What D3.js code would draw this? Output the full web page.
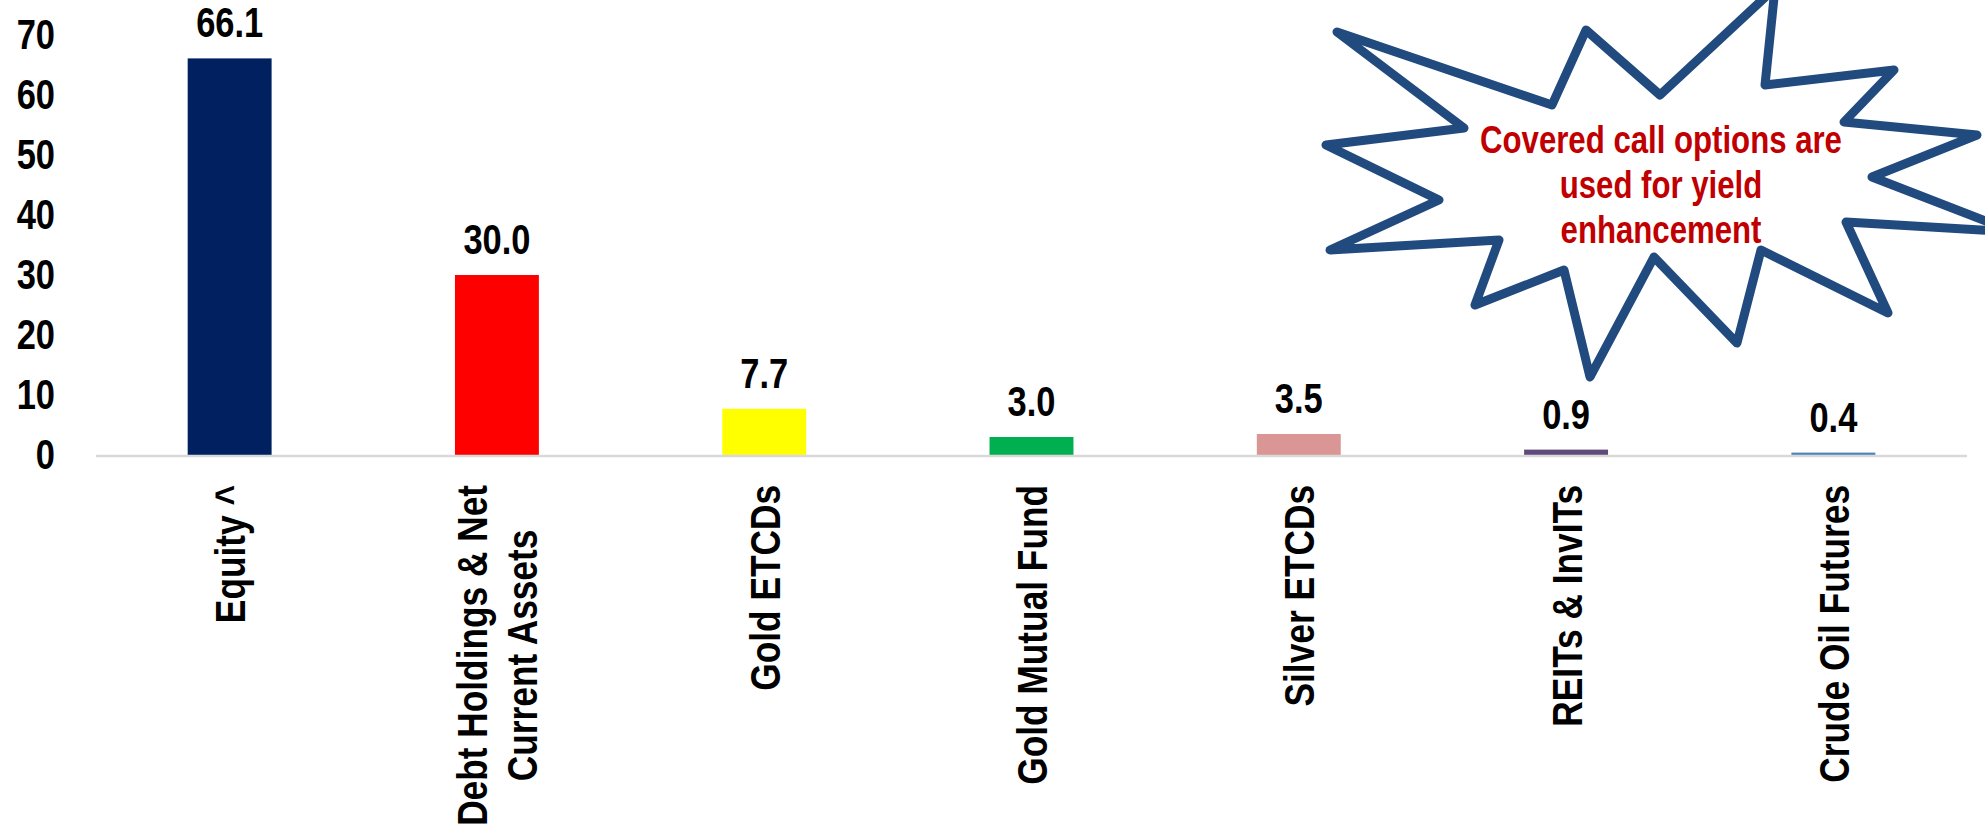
<!DOCTYPE html>
<html>
<head>
<meta charset="utf-8">
<script src="https://cdn.jsdelivr.net/npm/d3@7"></script>
<style>
  body { margin: 0; background: #fff; }
  text { font-family: "Liberation Sans", Arial, sans-serif; font-weight: bold; }
</style>
</head>
<body>
<div id="graph"></div>
<script>
// chart values
const categories = ['Equity ^', 'Debt Holdings & Net\nCurrent Assets', 'Gold ETCDs', 'Gold Mutual Fund', 'Silver ETCDs', 'REITs & InvITs', 'Crude Oil Futures'];
const values = [66.1, 30.0, 7.7, 3.0, 3.5, 0.9, 0.4];
const barColors = ['#002060', '#ff0000', '#ffff00', '#00b050', '#da9694', '#604a7b', '#4f81bd'];
const yTicks = [0, 10, 20, 30, 40, 50, 60, 70];
const calloutLines = ['Covered call options are', 'used for yield', 'enhancement'];
// callout outline (pixel coords, it's a drawn shape not data)
const starPoints = [
  [1337, 32], [1552, 105], [1586, 30], [1660, 95], [1775, -12], [1765, 85],
  [1894, 70], [1844, 122], [1977, 135], [1872, 177], [2014, 232], [1846, 222],
  [1888, 313], [1761, 250], [1737, 343], [1654, 257], [1590, 377], [1564, 270],
  [1475, 305], [1499, 240], [1330, 250], [1439, 200], [1326, 145], [1464, 128]
];

const svgWidth = 1985;
const svgHeight = 830;
const margin = { top: 35, right: 18, bottom: 375, left: 96 };

// no narrow font installed, so squeeze Liberation Sans Bold to Arial Narrow widths
function narrow(sel, k = 0.82) {
  sel.each(function () {
    const len = this.getComputedTextLength();
    d3.select(this)
      .attr('textLength', len * k)
      .attr('lengthAdjust', 'spacingAndGlyphs');
  });
}

const svg = d3.select('#graph')
  .append('svg')
  .attr('width', svgWidth)
  .attr('height', svgHeight);

const g = svg.append('g')
  .attr('transform', `translate(${margin.left}, ${margin.top})`);

const width = svgWidth - margin.left - margin.right;
const height = svgHeight - margin.top - margin.bottom;

const x = d3.scaleBand()
  .domain(categories)
  .range([0, width])
  .paddingInner(0.686)
  .paddingOuter(0.343);

const y = d3.scaleLinear()
  .domain([0, 70])
  .range([height, 0]);

// y axis, labels only
const yAxis = g.append('g')
  .call(d3.axisLeft(y).tickValues(yTicks).tickSize(0).tickPadding(41));
yAxis.select('.domain').remove();
yAxis.selectAll('text')
  .attr('font-size', 42)
  .attr('font-family', null)
  .attr('fill', '#000')
  .call(narrow);

// bars
g.selectAll('.bar')
  .data(values)
  .join('rect')
  .attr('class', 'bar')
  .attr('x', (d, i) => x(categories[i]))
  .attr('y', d => y(d))
  .attr('width', x.bandwidth())
  .attr('height', d => y(0) - y(d))
  .attr('fill', (d, i) => barColors[i]);

// baseline
g.append('line')
  .attr('x1', 0)
  .attr('x2', width)
  .attr('y1', y(0) + 1)
  .attr('y2', y(0) + 1)
  .attr('stroke', '#d9d9d9')
  .attr('stroke-width', 2.5);

// value labels
g.selectAll('.value')
  .data(values)
  .join('text')
  .attr('class', 'value')
  .attr('x', (d, i) => x(categories[i]) + x.bandwidth() / 2)
  .attr('y', d => y(d) - 21)
  .attr('text-anchor', 'middle')
  .attr('font-size', 42)
  .attr('fill', '#000')
  .text(d => d.toFixed(1))
  .call(narrow);

// rotated category labels, lines centred on each other, top end under the axis
const labelTop = height + 30;
categories.forEach(c => {
  const lines = c.split('\n');
  const lg = g.append('g')
    .attr('transform', `translate(${x(c) + x.bandwidth() / 2}, ${labelTop}) rotate(-90)`);
  const texts = lines.map((line, k) => lg.append('text')
    .attr('font-size', 43)
    .attr('text-anchor', 'middle')
    .attr('dy', `${0.36 + (k - (lines.length - 1) / 2) * 1.16}em`)
    .text(line)
    .call(narrow));
  const maxLen = d3.max(texts, t => +t.attr('textLength'));
  texts.forEach(t => t.attr('x', -maxLen / 2));
});

// callout burst
svg.append('path')
  .attr('d', d3.line()(starPoints) + 'Z')
  .attr('fill', '#fff')
  .attr('stroke', '#214b7e')
  .attr('stroke-width', 9)
  .attr('stroke-linejoin', 'round');

svg.append('g')
  .selectAll('text')
  .data(calloutLines)
  .join('text')
  .attr('x', 1661)
  .attr('y', (d, i) => 153 + i * 45)
  .attr('text-anchor', 'middle')
  .attr('font-size', 38)
  .attr('fill', '#c00000')
  .text(d => d)
  .call(narrow);
</script>
</body>
</html>
